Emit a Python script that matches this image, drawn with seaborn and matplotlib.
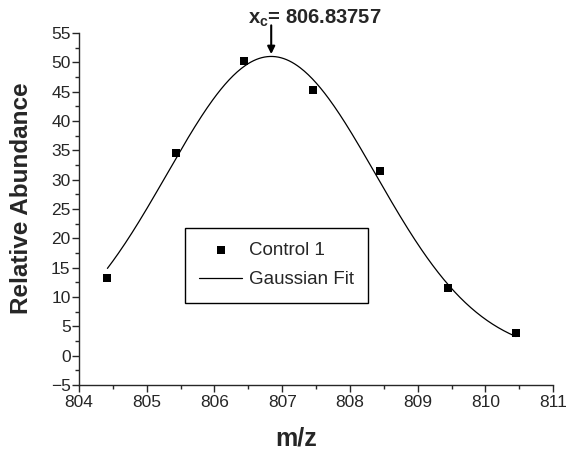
import numpy as np
import seaborn as sns
import matplotlib.pyplot as plt

# measured points (Control 1)
mz = [804.42, 805.43, 806.43, 807.45, 808.45, 809.45, 810.45]
abundance = [13.3, 34.5, 50.3, 45.2, 31.5, 11.6, 3.8]

# gaussian fit parameters
xc = 806.83757
amp = 51.0
sigma = 1.54
y0 = 0.0

sns.set_style('ticks')
plt.rcParams['font.family'] = ['Liberation Sans', 'DejaVu Sans']

fig = plt.figure(figsize=(5.68, 4.58), dpi=100)
ax = fig.add_axes([0.139, 0.1594, 0.835, 0.7686])

xfit = np.linspace(mz[0], mz[-1], 300)
yfit = y0 + amp * np.exp(-(xfit - xc) ** 2 / (2 * sigma ** 2))

sns.scatterplot(x=mz, y=abundance, marker='s', s=40, color='black',
                edgecolor='black', linewidth=0, label='Control 1', ax=ax, zorder=3)
sns.lineplot(x=xfit, y=yfit, color='black', linewidth=0.9, label='Gaussian Fit', ax=ax)

ax.set_xlim(804, 811)
ax.set_ylim(-5, 55)
ax.set_xticks(np.arange(804, 812, 1))
ax.set_yticks(np.arange(-5, 60, 5))
ax.set_xticks(np.arange(804.5, 811, 1), minor=True)
ax.set_yticks(np.arange(-2.5, 55, 5), minor=True)
ax.tick_params(which='major', length=5, width=1, labelsize=12.5, direction='out', pad=2)
ax.tick_params(which='minor', length=3, width=1, direction='out')
ax.tick_params(axis='y', pad=1)
sns.despine(ax=ax)
for s in ['left', 'bottom']:
    ax.spines[s].set_linewidth(1.0)

ax.set_xlabel('m/z', fontsize=18, fontweight='bold')
ax.set_ylabel('Relative Abundance', fontsize=17.5, fontweight='bold')
ax.xaxis.set_label_coords(0.458, -0.119)
ax.yaxis.set_label_coords(-0.097, 0.531)

ax.annotate('', xy=(xc, 51.4), xytext=(xc, 56.3), annotation_clip=False,
            arrowprops=dict(arrowstyle='-|>', color='black', lw=1.5,
                            mutation_scale=11, shrinkA=0, shrinkB=0))
ax.text(806.496, 56.56, 'x$_\\mathregular{c}$= 806.83757', ha='left', va='baseline',
        fontsize=14.5, fontweight='bold', clip_on=False)

leg = ax.legend(loc='upper left', bbox_to_anchor=(0.2236, 0.446), fontsize=13.5,
                frameon=True, fancybox=False, edgecolor='black', framealpha=1,
                handlelength=2.3, handletextpad=0.35, borderpad=0.75,
                borderaxespad=0, labelspacing=0.65)
leg.get_frame().set_linewidth(1.0)

fig.savefig('out.png', dpi=100)
